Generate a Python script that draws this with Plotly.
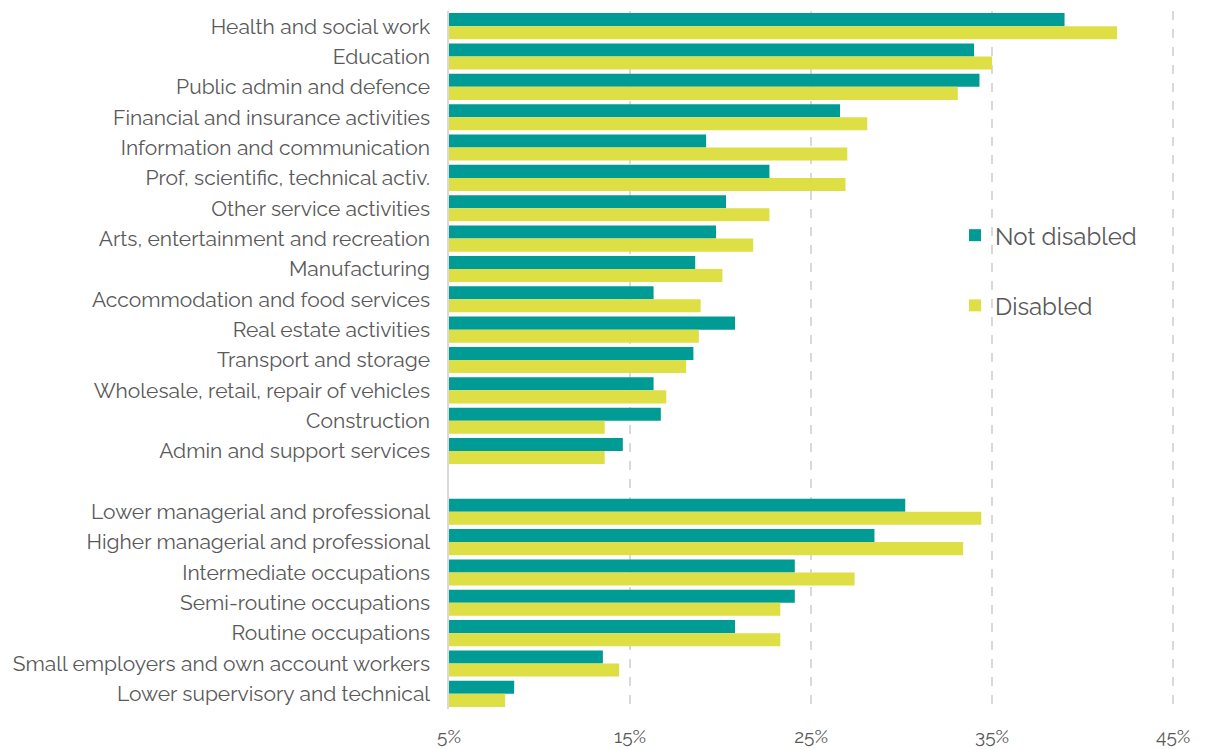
import plotly.graph_objects as go

# Categories from top to bottom; the blank entry separates industries from occupations
categories = [
    "Health and social work",
    "Education",
    "Public admin and defence",
    "Financial and insurance activities",
    "Information and communication",
    "Prof, scientific, technical activ.",
    "Other service activities",
    "Arts, entertainment and recreation",
    "Manufacturing",
    "Accommodation and food services",
    "Real estate activities",
    "Transport and storage",
    "Wholesale, retail, repair of vehicles",
    "Construction",
    "Admin and support services",
    " ",
    "Lower managerial and professional",
    "Higher managerial and professional",
    "Intermediate occupations",
    "Semi-routine occupations",
    "Routine occupations",
    "Small employers and own account workers",
    "Lower supervisory and technical",
]

not_disabled = [39.0, 34.0, 34.3, 26.6, 19.2, 22.7, 20.3, 19.75, 18.6, 16.3, 20.8, 18.5, 16.3, 16.7, 14.6,
                None,
                30.2, 28.5, 24.1, 24.1, 20.8, 13.5, 8.6]
disabled = [41.9, 35.0, 33.1, 28.1, 27.0, 26.9, 22.7, 21.8, 20.1, 18.9, 18.8, 18.1, 17.0, 13.6, 13.6,
            None,
            34.4, 33.4, 27.4, 23.3, 23.3, 14.4, 8.1]

x_ticks = [5, 15, 25, 35, 45]
x_tick_labels = ["5%", "15%", "25%", "35%", "45%"]

BASE = 5  # bars grow from the 5% axis line

teal = "#009B94"
yellow = "#DEDE45"
text_grey = "#595959"
font_family = "Raleway, Lato, sans-serif"


def lengths(values):
    return [None if v is None else v - BASE for v in values]


fig = go.Figure()
fig.add_trace(go.Bar(
    y=categories, x=lengths(not_disabled), base=BASE, orientation="h",
    name="Not disabled", marker=dict(color=teal, line=dict(width=0)),
    legendgroup="nd",
))
fig.add_trace(go.Bar(
    y=categories, x=lengths(disabled), base=BASE, orientation="h",
    name="Disabled", marker=dict(color=yellow, line=dict(width=0)),
    legendgroup="d",
))

fig.update_layout(
    width=1211, height=749,
    margin=dict(l=449, r=36, t=11, b=40),
    plot_bgcolor="white", paper_bgcolor="white",
    barmode="group", bargap=0.14, bargroupgap=0.0,
    font=dict(family=font_family, color=text_grey, size=21),
    legend=dict(
        x=0.697, y=0.7105, xanchor="left", yanchor="top",
        font=dict(size=24, color=text_grey),
        tracegroupgap=36, bgcolor="rgba(0,0,0,0)",
        itemwidth=30,
    ),
    xaxis=dict(
        range=[5, 45.1], tickvals=x_ticks, ticktext=x_tick_labels,
        showgrid=True, gridcolor="#d9d9d9", griddash="dash", gridwidth=1.5,
        zeroline=False, showline=False, ticks="",
        tickfont=dict(size=19, color=text_grey),
        ticklabelstandoff=14, automargin=False,
    ),
    yaxis=dict(
        type="category", categoryorder="array", categoryarray=categories,
        autorange="reversed", showgrid=False, zeroline=False,
        showline=True, linecolor="#d9d9d9", linewidth=1.5,
        ticks="", ticklabelstandoff=13, automargin=False,
        tickfont=dict(size=21, color=text_grey),
    ),
)

fig.write_html("out.html")
